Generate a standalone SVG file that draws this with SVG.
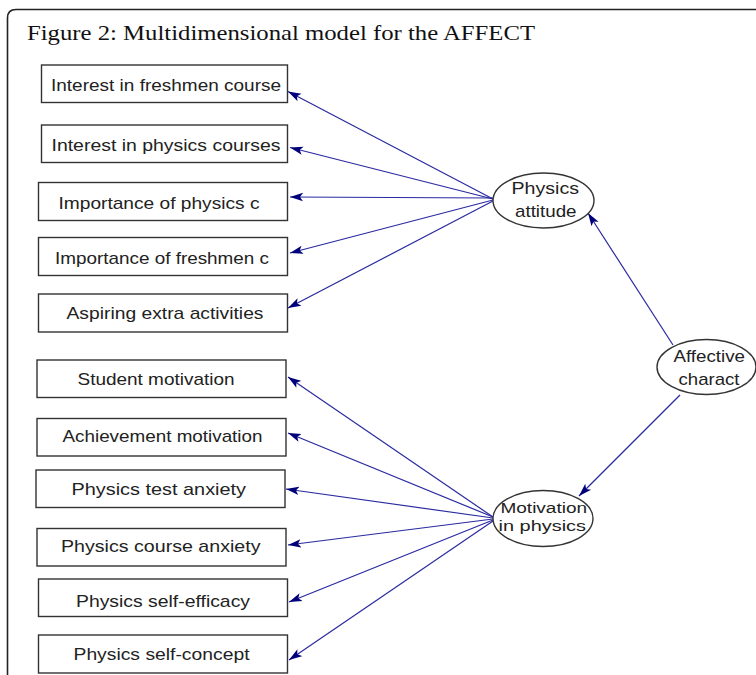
<svg xmlns="http://www.w3.org/2000/svg" width="756" height="675" viewBox="0 0 756 675">
  <style>
    .box rect { fill: #ffffff; stroke: #333333; stroke-width: 1.4; }
    .box text { font-family: "Liberation Sans", Arial, sans-serif; font-size: 17px; fill: #222222; }
    .latent ellipse { fill: #ffffff; stroke: #333333; stroke-width: 1.4; }
    .latent text { font-family: "Liberation Sans", Arial, sans-serif; font-size: 17px; fill: #222222; }
    .latent .tight { font-size: 15.5px; }
    .conn line { stroke: #2a2aa0; stroke-width: 1.2; fill: none; marker-end: url(#head); }
    .title { font-family: "Liberation Serif", "Times New Roman", serif; font-size: 22px; fill: #111111; }
  </style>
  <defs>
    <marker id="head" viewBox="0 -5 13 10" refX="13" refY="0" markerWidth="13" markerHeight="10" markerUnits="userSpaceOnUse" orient="auto">
      <path d="M0,-4.2 L13,0 L0,4.2 L3,0 z" fill="#00007a"/>
    </marker>
  </defs>

  <rect width="756" height="675" fill="#ffffff"/>

  <!-- outer frame: open to the right and bottom -->
  <path d="M7.5,675 L7.5,18 Q7.5,9.5 16,9.5 L756,9.5" fill="none" stroke="#222222" stroke-width="1.6"/>

  <text class="title" x="27" y="40" textLength="508" lengthAdjust="spacingAndGlyphs">Figure 2: Multidimensional model for the AFFECT</text>

  <!-- connectors -->
  <g id="connectors" class="conn">
    <line x1="493" y1="199" x2="288" y2="91.5"/>
    <line x1="493" y1="199" x2="290" y2="147.5"/>
    <line x1="493" y1="198" x2="290" y2="197"/>
    <line x1="493" y1="200" x2="290" y2="253"/>
    <line x1="493" y1="201" x2="288" y2="308"/>

    <line x1="673" y1="345" x2="588" y2="213"/>
    <line x1="680" y1="395" x2="579" y2="496"/>

    <line x1="493" y1="517" x2="288" y2="377"/>
    <line x1="493" y1="517" x2="288" y2="433"/>
    <line x1="493" y1="518" x2="286" y2="489"/>
    <line x1="493" y1="519" x2="288" y2="545"/>
    <line x1="493" y1="520" x2="289" y2="602"/>
    <line x1="493" y1="521" x2="289" y2="660"/>
  </g>

  <!-- observed indicators -->
  <g id="interest-freshmen" class="box">
    <rect x="41.5" y="65" width="246" height="37.5"/>
    <text x="51" y="90.5" textLength="230" lengthAdjust="spacingAndGlyphs">Interest in freshmen course</text>
  </g>
  <g id="interest-physics" class="box">
    <rect x="41.5" y="125" width="246" height="37.5"/>
    <text x="51.5" y="150.5" textLength="229" lengthAdjust="spacingAndGlyphs">Interest in physics courses</text>
  </g>
  <g id="importance-physics" class="box">
    <rect x="38.5" y="182.5" width="249" height="38"/>
    <text x="58.5" y="208.5" textLength="201" lengthAdjust="spacingAndGlyphs">Importance of physics c</text>
  </g>
  <g id="importance-freshmen" class="box">
    <rect x="38.5" y="237.5" width="249" height="38"/>
    <text x="55" y="263.5" textLength="214" lengthAdjust="spacingAndGlyphs">Importance of freshmen c</text>
  </g>
  <g id="aspiring-extra" class="box">
    <rect x="38.5" y="294" width="249" height="38"/>
    <text x="66.5" y="318.5" textLength="197" lengthAdjust="spacingAndGlyphs">Aspiring extra activities</text>
  </g>
  <g id="student-motivation" class="box">
    <rect x="37" y="360" width="249" height="37.5"/>
    <text x="77.5" y="385" textLength="157" lengthAdjust="spacingAndGlyphs">Student motivation</text>
  </g>
  <g id="achievement-motivation" class="box">
    <rect x="37" y="418.5" width="249" height="37.5"/>
    <text x="62.5" y="441.5" textLength="200" lengthAdjust="spacingAndGlyphs">Achievement motivation</text>
  </g>
  <g id="test-anxiety" class="box">
    <rect x="36" y="470" width="249" height="37.5"/>
    <text x="71.5" y="495" textLength="174.5" lengthAdjust="spacingAndGlyphs">Physics test anxiety</text>
  </g>
  <g id="course-anxiety" class="box">
    <rect x="37" y="528.5" width="249" height="37.5"/>
    <text x="61" y="551.5" textLength="199.5" lengthAdjust="spacingAndGlyphs">Physics course anxiety</text>
  </g>
  <g id="self-efficacy" class="box">
    <rect x="38.5" y="579" width="249" height="37.5"/>
    <text x="76" y="606.5" textLength="174" lengthAdjust="spacingAndGlyphs">Physics self-efficacy</text>
  </g>
  <g id="self-concept" class="box">
    <rect x="38.5" y="635" width="249" height="38"/>
    <text x="73.5" y="660" textLength="176" lengthAdjust="spacingAndGlyphs">Physics self-concept</text>
  </g>

  <!-- latent factors -->
  <g id="physics-attitude" class="latent">
    <ellipse cx="543.5" cy="200.5" rx="50.5" ry="27.5"/>
    <text x="511.5" y="193.5" textLength="67.5" lengthAdjust="spacingAndGlyphs">Physics</text>
    <text x="515" y="216.5" textLength="61.5" lengthAdjust="spacingAndGlyphs">attitude</text>
  </g>
  <g id="affective-charact" class="latent">
    <ellipse cx="706.5" cy="367" rx="49.5" ry="27.5"/>
    <text x="673.5" y="361.5" textLength="71.5" lengthAdjust="spacingAndGlyphs">Affective</text>
    <text x="678.5" y="385" textLength="61" lengthAdjust="spacingAndGlyphs">charact</text>
  </g>
  <g id="motivation-physics" class="latent">
    <ellipse cx="543" cy="518.5" rx="50" ry="28"/>
    <text class="tight" x="500.5" y="513" textLength="86.5" lengthAdjust="spacingAndGlyphs">Motivation</text>
    <text class="tight" x="498.5" y="531" textLength="87.5" lengthAdjust="spacingAndGlyphs">in physics</text>
  </g>
</svg>
